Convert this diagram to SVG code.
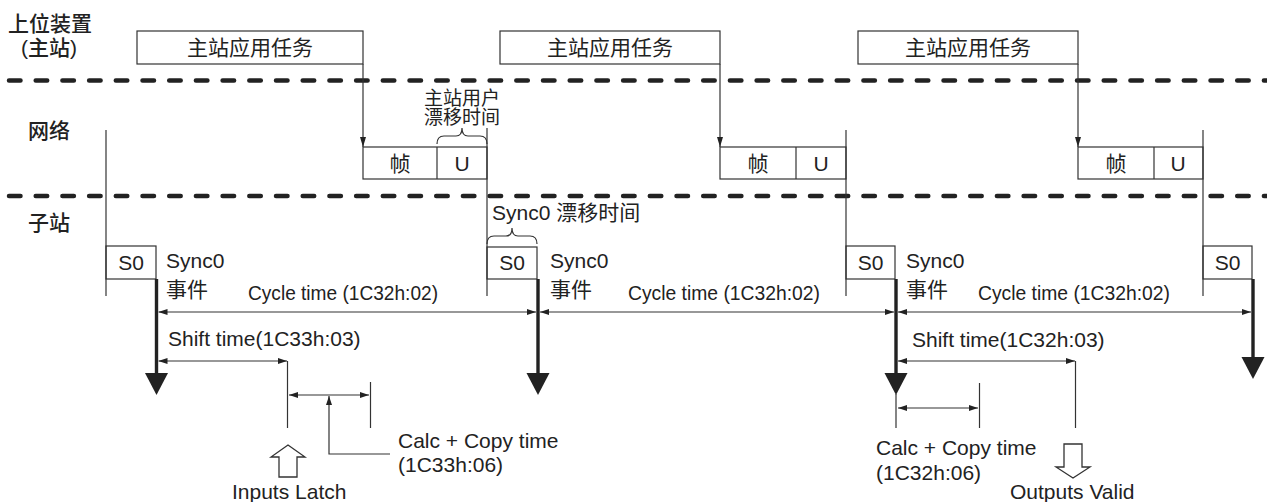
<svg xmlns="http://www.w3.org/2000/svg" width="1267" height="502" viewBox="0 0 1267 502">
<style>
text{font-family:"Liberation Sans","Noto Sans CJK SC",sans-serif;fill:#222;font-size:21px}
.lab{font-weight:500}
.box{fill:#fff;stroke:#333;stroke-width:1.2}
.ln{stroke:#333;stroke-width:1.2;fill:none}
.dash{stroke:#222;stroke-width:4.5;stroke-dasharray:11.5 15.2;stroke-linecap:round}
.bold{stroke:#222;stroke-width:3.4}
.hd{fill:#222}
.hollow{fill:#fff;stroke:#333;stroke-width:1.3}
.c{text-anchor:middle}
.sm{font-size:19px}
</style>
<defs>
<marker id="a" markerUnits="userSpaceOnUse" markerWidth="9" markerHeight="7" viewBox="0 0 9 7" refX="9" refY="3.5" orient="auto-start-reverse"><path d="M0,0.5 L9,3.5 L0,6.5z" fill="#222"/></marker>
<marker id="d" markerUnits="userSpaceOnUse" markerWidth="10" markerHeight="7" viewBox="0 0 10 7" refX="10" refY="3.5" orient="auto"><path d="M0,0.5 L10,3.5 L0,6.5z" fill="#222"/></marker>
</defs>
<rect width="1267" height="502" fill="#fff"/>

<g id="lanes">
<line class="dash" x1="9" y1="80.5" x2="1267" y2="80.5"/>
<line class="dash" x1="9" y1="196" x2="1267" y2="196"/>
<text class="lab" x="8" y="31">上位装置</text>
<text class="lab" x="21" y="55">(主站)</text>
<text class="lab" x="28" y="138">网络</text>
<text class="lab" x="28" y="230">子站</text>
</g>

<g id="task1"><rect class="box" x="137" y="31" width="226" height="33"/><text class="c" x="250" y="55">主站应用任务</text></g>
<g id="task2"><rect class="box" x="500" y="31" width="220" height="33"/><text class="c" x="610" y="55">主站应用任务</text></g>
<g id="task3"><rect class="box" x="858" y="31" width="220" height="33"/><text class="c" x="968" y="55">主站应用任务</text></g>

<g id="frame1"><rect class="box" x="363" y="147" width="124" height="32"/><line class="ln" x1="437" y1="147" x2="437" y2="179"/><text class="c" x="400" y="171">帧</text><text class="c" x="462" y="171">U</text></g>
<g id="frame2"><rect class="box" x="720" y="147" width="126" height="32"/><line class="ln" x1="796" y1="147" x2="796" y2="179"/><text class="c" x="758" y="171">帧</text><text class="c" x="821" y="171">U</text></g>
<g id="frame3"><rect class="box" x="1078" y="147" width="125" height="32"/><line class="ln" x1="1154" y1="147" x2="1154" y2="179"/><text class="c" x="1116" y="171">帧</text><text class="c" x="1178" y="171">U</text></g>

<g id="s0-1"><rect class="box" x="106" y="246" width="50" height="33"/><text class="c" x="131" y="270">S0</text></g>
<g id="s0-2"><rect class="box" x="487" y="247" width="50" height="32"/><text class="c" x="512" y="270">S0</text></g>
<g id="s0-3"><rect class="box" x="846" y="246" width="49" height="33"/><text class="c" x="870.5" y="270">S0</text></g>
<g id="s0-4"><rect class="box" x="1203" y="246" width="49" height="33"/><text class="c" x="1227.5" y="270">S0</text></g>

<g id="connectors">
<line class="ln" x1="363" y1="64" x2="363" y2="147" marker-end="url(#d)"/>
<line class="ln" x1="720" y1="64" x2="720" y2="147" marker-end="url(#d)"/>
<line class="ln" x1="1078" y1="64" x2="1078" y2="147" marker-end="url(#d)"/>
<line class="ln" x1="106" y1="130" x2="106" y2="296"/>
<line class="ln" x1="487" y1="128" x2="487" y2="296"/>
<line class="ln" x1="846" y1="130" x2="846" y2="296"/>
<line class="ln" x1="1203" y1="130" x2="1203" y2="296"/>
<path class="ln" d="M437,144 Q437,136 444,136 L456,136 Q462,136 462,128 Q462,136 468,136 L480,136 Q487,136 487,144"/>
<path class="ln" d="M487,244 Q487,236 494,236 L506,236 Q512,236 512,228 Q512,236 518,236 L530,236 Q537,236 537,244"/>
<line class="bold" x1="156.5" y1="279" x2="156.5" y2="376"/><polygon class="hd" points="145,373 168,373 156.5,395"/>
<line class="bold" x1="538" y1="279" x2="538" y2="376"/><polygon class="hd" points="526.5,373 549.5,373 538,395"/>
<line class="bold" x1="896" y1="279" x2="896" y2="376"/><polygon class="hd" points="884.5,373 907.5,373 896,395"/>
<line class="bold" x1="1253" y1="279" x2="1253" y2="360"/><polygon class="hd" points="1241.5,357 1264.5,357 1253,379"/>
<line class="ln" x1="158.5" y1="312" x2="536" y2="312" marker-start="url(#a)" marker-end="url(#a)"/>
<line class="ln" x1="540" y1="312" x2="894" y2="312" marker-start="url(#a)" marker-end="url(#a)"/>
<line class="ln" x1="898" y1="312" x2="1251" y2="312" marker-start="url(#a)" marker-end="url(#a)"/>
<line class="ln" x1="158.5" y1="361" x2="287" y2="361" marker-start="url(#a)" marker-end="url(#a)"/>
<line class="ln" x1="287.5" y1="361" x2="287.5" y2="428"/>
<line class="ln" x1="289" y1="395" x2="369" y2="395" marker-start="url(#a)" marker-end="url(#a)"/>
<line class="ln" x1="370.5" y1="382" x2="370.5" y2="428"/>
<path class="ln" d="M390,454 H329 V396" marker-end="url(#a)"/>
<polygon class="hollow" points="288,445 305,457 297,457 297,477 279,477 279,457 271,457"/>
<line class="ln" x1="898" y1="361" x2="1075" y2="361" marker-start="url(#a)" marker-end="url(#a)"/>
<line class="ln" x1="1075.5" y1="361" x2="1075.5" y2="428"/>
<line class="ln" x1="896" y1="394" x2="896" y2="428"/>
<line class="ln" x1="898" y1="408" x2="978" y2="408" marker-start="url(#a)" marker-end="url(#a)"/>
<line class="ln" x1="979.5" y1="383" x2="979.5" y2="428"/>
<polygon class="hollow" points="1064,444 1082,444 1082,467 1090,467 1073,478 1056,467 1064,467"/>
</g>

<g id="labels">
<text class="c sm" x="462" y="105">主站用户</text>
<text class="c sm" x="462" y="124">漂移时间</text>
<text x="492" y="220">Sync0 漂移时间</text>
<text x="166" y="268">Sync0</text><text x="166" y="297">事件</text>
<text x="550" y="268">Sync0</text><text x="550" y="297">事件</text>
<text x="906" y="268">Sync0</text><text x="906" y="297">事件</text>
<text x="248" y="300" textLength="190" lengthAdjust="spacingAndGlyphs">Cycle time (1C32h:02)</text>
<text x="628" y="300" textLength="192" lengthAdjust="spacingAndGlyphs">Cycle time (1C32h:02)</text>
<text x="978" y="300" textLength="192" lengthAdjust="spacingAndGlyphs">Cycle time (1C32h:02)</text>
<text x="168" y="346">Shift time(1C33h:03)</text>
<text x="912" y="347">Shift time(1C32h:03)</text>
<text x="398" y="448">Calc + Copy time</text>
<text x="398" y="472">(1C33h:06)</text>
<text x="876" y="455">Calc + Copy time</text>
<text x="876" y="480">(1C32h:06)</text>
<text x="232" y="499">Inputs Latch</text>
<text x="1010" y="499">Outputs Valid</text>
</g>
</svg>
